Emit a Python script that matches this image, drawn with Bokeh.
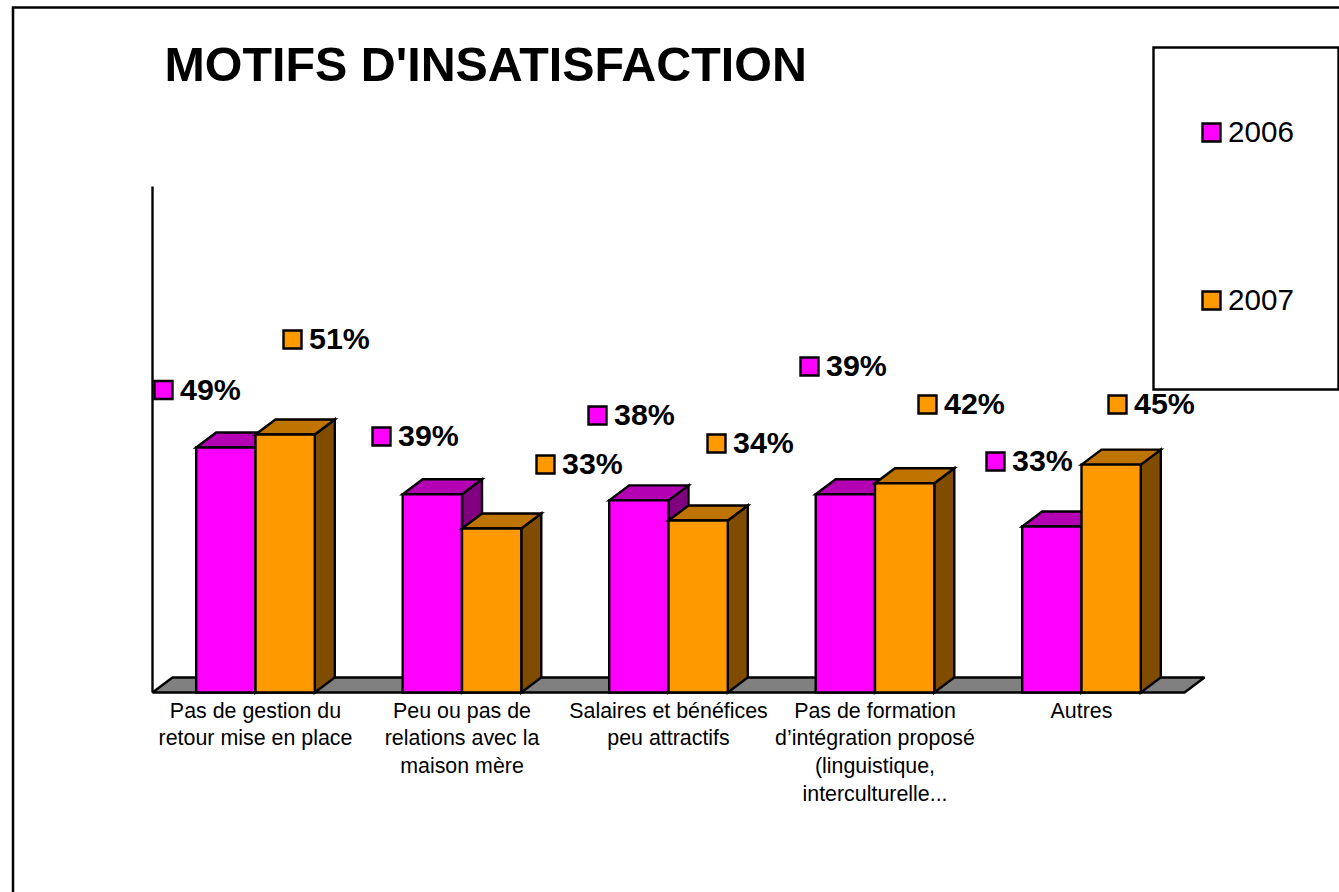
from bokeh.embed import file_html
from bokeh.resources import INLINE
from bokeh.plotting import figure
from bokeh.models import Range1d, ColumnDataSource
from bokeh.core.properties import value

title = "MOTIFS D'INSATISFACTION"
categories = [
    ["Pas de gestion du", "retour mise en place"],
    ["Peu ou pas de", "relations avec la", "maison mère"],
    ["Salaires et bénéfices", "peu attractifs"],
    ["Pas de formation", "d’intégration proposé", "(linguistique,", "interculturelle..."],
    ["Autres"],
]
series_names = ["2006", "2007"]
values_2006 = [48.7, 39.4, 38.2, 39.4, 33.0]
values_2007 = [51.3, 32.6, 34.2, 41.6, 45.3]
labels_2006 = ["49%", "39%", "38%", "39%", "33%"]
labels_2007 = ["51%", "33%", "34%", "42%", "45%"]

# layout (pixels of the page)
W, H = 1339, 892
X0, Y0 = 255.0, 692.0      # centre of first category, baseline
STEP, PX_PER_PCT = 206.5, 5.03
BAR_W, DEPTH_X, DEPTH_Y = 59.3, 20.0, 15.0
# marker square centres of the value labels, in page pixels
LABEL_POS_2006 = [(163, 389.5), (381, 436), (597, 415), (809, 366), (995, 461)]
LABEL_POS_2007 = [(292, 339), (545, 464), (716, 443), (927, 404), (1117, 404)]
COLORS = {
    "2006": ("#FF00FF", "#B300B3", "#800080"),
    "2007": ("#FF9900", "#BF7300", "#804D00"),
}
FONT = value("Liberation Sans")
LW = 2.4


def dx(px):
    return (px - X0) / STEP


def dy(py):
    return (Y0 - py) / PX_PER_PCT


p = figure(width=W, height=H, output_backend="svg", toolbar_location=None,
           x_range=Range1d(dx(0), dx(W)), y_range=Range1d(dy(H), dy(0)),
           min_border=0, outline_line_color=None, background_fill_color="white",
           border_fill_color="white")
p.margin = (0, 0, 0, 0)
p.axis.visible = False
p.grid.visible = False

ddx, ddy = DEPTH_X / STEP, DEPTH_Y / PX_PER_PCT
half = BAR_W / STEP

# page frame
p.line([dx(W), dx(12.5), dx(12.5)], [dy(7), dy(7), dy(H)], line_color="black", line_width=2.5,
       line_join="miter")

# floor
p.patch([dx(152), dx(152 + DEPTH_X), dx(1204), dx(1184)],
        [0, ddy, ddy, 0], fill_color="#808080", line_color="black", line_width=LW)
# value axis
p.line([dx(152), dx(152)], [0, dy(186)], line_color="black", line_width=LW)

# 3-D bars: back to front, side and top before the front
xs, ys, fills = [], [], []
for i in range(len(categories)):
    for off, v, name in ((-half, values_2006[i], "2006"), (0.0, values_2007[i], "2007")):
        l, r = i + off, i + off + half
        front, top, side = COLORS[name]
        xs += [[r, r + ddx, r + ddx, r], [l, l + ddx, r + ddx, r], [l, r, r, l]]
        ys += [[0, ddy, v + ddy, v], [v, v + ddy, v + ddy, v], [0, 0, v, v]]
        fills += [side, top, front]
p.patches("xs", "ys", fill_color="fills", line_color="black", line_width=LW,
          line_join="miter", source=ColumnDataSource(dict(xs=xs, ys=ys, fills=fills)))

# category labels
lx, ly, lt = [], [], []
for i, rows in enumerate(categories):
    for j, row in enumerate(rows):
        lx.append(i)
        ly.append(dy(710 + 27.7 * j))
        lt.append(row)
p.text(lx, ly, text=lt, text_font=FONT, text_font_size="21.4px", text_color="black",
       text_align="center", text_baseline="middle")

# value labels
for name, pos, labs in (("2006", LABEL_POS_2006, labels_2006), ("2007", LABEL_POS_2007, labels_2007)):
    p.scatter([dx(a) for a, b in pos], [dy(b) for a, b in pos], marker="square", size=18,
              fill_color=COLORS[name][0], line_color="black", line_width=LW, line_join="miter")
    p.text([dx(a + 16.5) for a, b in pos], [dy(b - 1.5) for a, b in pos], text=labs, text_font=FONT,
           text_font_size="30.4px", text_font_style="bold", text_color="black",
           text_align="left", text_baseline="middle")

# title
p.text([dx(164)], [dy(63.5)], text=[title], text_font=FONT, text_font_size="48.4px",
       text_font_style="bold", text_color="black", text_align="left", text_baseline="middle")

# legend box
p.patch([dx(1153), dx(1338), dx(1338), dx(1153)], [dy(47), dy(47), dy(389), dy(389)],
        fill_color="white", line_color="black", line_width=LW, line_join="miter")
for name, py in zip(series_names, (132, 300)):
    p.scatter([dx(1211)], [dy(py)], marker="square", size=18, fill_color=COLORS[name][0],
              line_color="black", line_width=LW, line_join="miter")
    p.text([dx(1227.5)], [dy(py - 0.5)], text=[name], text_font=FONT, text_font_size="29.6px",
           text_color="black", text_align="left", text_baseline="middle")

open("out.html", "w").write(file_html(p, INLINE))
